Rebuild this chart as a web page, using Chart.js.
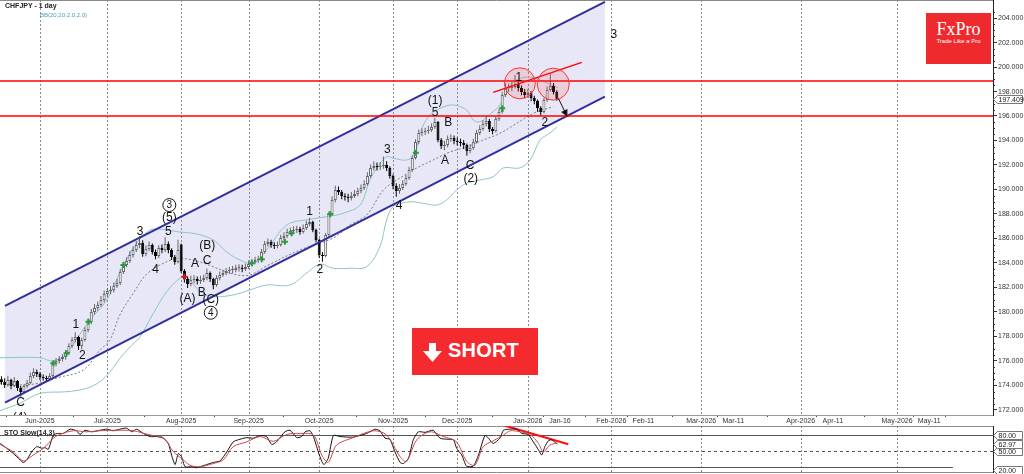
<!DOCTYPE html>
<html>
<head>
<meta charset="utf-8">
<script src="https://cdn.jsdelivr.net/npm/chart.js@4.4.1/dist/chart.umd.min.js"></script>
<style>
  html, body { margin: 0; padding: 0; background: #fff; }
  #wrap { position: relative; width: 1024px; height: 474px; overflow: hidden; font-family: 'Liberation Sans', Arial, sans-serif; }
  #mainChart { position: absolute; left: 0; top: 0; }
  #stoChart { position: absolute; left: 0; top: 426px; }
  .title { position: absolute; left: 5px; top: 2px; font-size: 7px; font-weight: bold; color: #222; white-space: nowrap; }
  .bbname { position: absolute; left: 40px; top: 12px; font-size: 6px; color: #4b9fae; white-space: nowrap; }
  .stoname { position: absolute; left: 4px; top: 429px; font-size: 7px; font-weight: bold; color: #222; white-space: nowrap; }
  .logo { position: absolute; left: 926px; top: 13px; width: 65px; height: 51px; background: #ee2a2f; color: #fff; text-align: center; }
  .logo .brand { position: absolute; left: 0; right: 0; top: 6px; font-family: 'Liberation Serif', 'Times New Roman', serif; font-size: 18px; line-height: 20px; }
  .logo .tag { position: absolute; left: 0; right: 0; top: 25px; font-size: 6px; line-height: 7px; white-space: nowrap; }
  .short { position: absolute; left: 412px; top: 328px; width: 126px; height: 47px; background: #f42a2f; color: #fff; }
  .short svg { position: absolute; left: 11px; top: 15px; }
  .short span { position: absolute; left: 36px; top: 12px; font-size: 20px; line-height: 20px; font-weight: bold; letter-spacing: 0.2px; }
</style>
</head>
<body>
<div id="wrap">
  <canvas id="mainChart" width="1024" height="426"></canvas>
  <canvas id="stoChart" width="1024" height="48"></canvas>
  <div class="title">CHFJPY - 1 day</div>
  <div class="bbname">BB(20,20,2.0,2.0)</div>
  <div class="stoname">STO Slow(14,3)</div>
  <div class="logo"><div class="brand">FxPro</div><div class="tag">Trade Like a Pro</div></div>
  <div class="short">
    <svg width="19" height="19" viewBox="0 0 19 19"><polygon points="6,0 13,0 13,8 19,8 9.5,19 0,8 6,8" fill="#fff"/></svg>
    <span>SHORT</span>
  </div>
</div>
<script>
// daily candles, first one sits at bar -12 (Jun-2025 = bar 0)
const firstBar = -12;
const opens = [
  174.50,174.29,174.04,174.45,173.96,174.37,173.80,173.47,173.96,174.20,174.78,175.10,
  174.94,174.69,174.61,174.53,174.78,175.76,176.00,176.16,176.33,176.65,
  177.22,177.71,177.96,177.22,177.71,178.53,179.18,180.00,180.33,180.57,
  180.98,181.47,181.71,181.80,182.12,182.37,183.27,183.84,184.16,184.65,
  185.06,185.47,185.63,184.73,185.14,185.47,184.90,184.57,185.22,185.06,
  185.55,185.06,184.49,184.08,185.50,183.35,182.69,182.29,182.61,182.69,
  182.53,182.61,182.78,183.18,182.69,182.20,182.78,183.02,183.18,183.35,
  183.43,183.43,183.59,183.59,183.51,183.67,183.92,184.08,184.24,184.33,
  184.90,185.55,185.71,185.47,185.39,185.47,186.04,186.20,186.53,186.61,
  186.69,186.78,186.53,186.86,187.18,187.35,186.69,185.88,184.65,184.57,
  186.29,188.00,189.14,189.96,189.80,189.47,189.39,189.31,189.47,189.63,
  189.88,190.12,190.45,191.10,191.76,191.92,191.84,191.92,192.00,191.76,
  191.10,190.29,189.88,190.12,190.45,190.94,191.59,192.57,193.88,194.61,
  194.69,194.78,194.86,195.10,195.51,194.04,193.55,193.63,194.12,194.20,
  193.96,193.88,193.80,193.63,193.14,193.39,193.88,194.61,194.94,195.35,
  195.59,194.94,194.78,195.76,196.33,197.71,198.29,198.29,198.37,198.61,
  198.29,197.96,197.71,197.88,197.47,197.22,196.65,196.33,197.31,198.12,
  198.45,197.96
];
const highs = [
  174.75,174.60,174.80,174.55,174.70,174.45,173.95,174.10,174.45,175.05,175.40,175.30,
  175.10,174.90,174.80,175.00,175.95,176.25,176.40,176.55,176.90,177.45,
  177.95,178.35,178.05,177.90,178.75,179.45,180.25,180.65,180.85,181.30,
  181.75,181.95,182.10,182.40,182.70,183.50,184.10,184.45,184.95,185.35,
  185.80,186.20,185.85,185.45,185.75,185.60,185.10,185.45,185.50,186.10,
  185.75,185.20,184.65,185.90,185.60,183.50,182.90,182.95,183.00,182.90,
  182.95,183.05,183.55,183.30,182.80,183.00,183.30,183.45,183.60,183.70,
  183.75,183.85,183.90,183.85,183.95,184.20,184.35,184.50,184.60,185.15,
  185.80,186.00,185.90,185.70,185.75,186.30,186.50,186.80,186.90,187.00,
  187.05,186.95,187.15,187.45,187.70,187.45,186.80,186.00,184.90,186.45,
  188.20,189.45,190.30,190.25,189.95,189.70,189.65,189.80,189.95,190.15,
  190.40,190.75,191.40,192.05,192.30,192.20,192.25,192.70,192.30,191.90,
  191.25,190.50,190.45,190.75,191.20,191.85,192.80,194.10,194.90,195.00,
  195.05,195.20,195.40,195.85,195.60,194.20,193.95,194.40,194.50,194.40,
  194.25,194.15,194.05,193.75,193.70,194.15,194.85,195.25,195.65,196.00,
  195.75,195.10,196.00,196.60,198.00,198.70,198.65,198.80,199.35,198.85,
  198.50,198.20,198.20,198.05,197.65,197.35,196.80,197.50,198.40,199.50,
  198.70,198.10
];
const lows = [
  174.05,173.80,173.90,173.70,173.85,173.55,173.10,173.30,173.80,174.10,174.60,174.70,
  174.45,174.40,174.30,174.35,174.70,175.55,175.80,175.95,176.10,176.50,
  177.05,177.50,176.90,176.95,177.60,178.35,179.00,179.80,180.10,180.40,
  180.80,181.25,181.45,181.60,181.95,182.20,183.10,183.65,184.00,184.45,
  184.90,185.20,184.50,184.55,184.95,184.70,184.30,184.40,184.80,184.90,
  184.80,184.25,183.85,183.95,183.20,182.40,181.95,182.10,182.35,182.25,
  182.30,182.45,182.60,182.45,181.85,182.05,182.60,182.85,183.00,183.10,
  183.15,183.25,183.30,183.25,183.35,183.50,183.75,183.90,184.00,184.20,
  184.75,185.35,185.25,185.15,185.20,185.35,185.90,186.05,186.30,186.40,
  186.45,186.30,186.40,186.70,187.00,186.50,185.70,184.40,184.10,184.45,
  186.10,187.85,188.95,189.55,189.20,189.10,188.95,189.10,189.30,189.45,
  189.70,189.95,190.30,190.95,191.55,191.55,191.60,191.70,191.50,190.90,
  190.05,189.40,189.65,189.95,190.30,190.80,191.45,192.45,193.70,194.35,
  194.45,194.55,194.70,194.95,193.85,193.30,193.20,193.45,193.90,193.70,
  193.60,193.50,193.30,192.75,192.95,193.25,193.75,194.45,194.80,195.15,
  194.70,194.50,194.65,195.60,196.20,197.55,197.95,198.05,198.25,198.00,
  197.70,197.45,197.50,197.20,196.95,196.35,196.05,196.20,197.15,198.00,
  197.75,197.25
];
const closes = [
  174.29,174.04,174.45,173.96,174.37,173.80,173.47,173.96,174.20,174.78,175.10,174.94,
  174.69,174.61,174.53,174.78,175.76,176.00,176.16,176.33,176.65,177.22,
  177.71,177.96,177.22,177.71,178.53,179.18,180.00,180.33,180.57,180.98,
  181.47,181.71,181.80,182.12,182.37,183.27,183.84,184.16,184.65,185.06,
  185.47,185.63,184.73,185.14,185.47,184.90,184.57,185.22,185.06,185.55,
  185.06,184.49,184.08,185.06,183.35,182.69,182.29,182.61,182.69,182.53,
  182.61,182.78,183.18,182.69,182.20,182.78,183.02,183.18,183.35,183.43,
  183.43,183.59,183.59,183.51,183.67,183.92,184.08,184.24,184.33,184.90,
  185.55,185.71,185.47,185.39,185.47,186.04,186.20,186.53,186.61,186.69,
  186.78,186.53,186.86,187.18,187.35,186.69,185.88,184.65,184.57,186.29,
  188.00,189.14,189.96,189.80,189.47,189.39,189.31,189.47,189.63,189.88,
  190.12,190.45,191.10,191.76,191.92,191.84,191.92,192.00,191.76,191.10,
  190.29,189.88,190.12,190.45,190.94,191.59,192.57,193.88,194.61,194.69,
  194.78,194.86,195.10,195.51,194.04,193.55,193.63,194.12,194.20,193.96,
  193.88,193.80,193.63,193.14,193.39,193.88,194.61,194.94,195.35,195.59,
  194.94,194.78,195.76,196.33,197.71,198.29,198.29,198.37,198.61,198.29,
  197.96,197.71,197.88,197.47,197.22,196.65,196.33,197.31,198.12,198.45,
  197.96,197.409
];

// Bollinger bands: [bar, price]
const bbUpper = [[-12.45,176.27],[0,176.27],[4.1,176.0],[8.3,176.65],[15.1,179.21],[20.8,180.98],[26.0,183.84],[30.1,185.61],[34.3,186.69],[37.9,186.75],[42.6,186.56],[48.8,186.37],[54.0,185.88],[58.2,184.90],[62.3,184.24],[66.5,183.98],[70.6,185.06],[76.9,187.10],[84.1,187.57],[89.3,187.78],[94.5,188.06],[99.7,188.73],[102.8,190.78],[104.9,191.73],[108.0,192.68],[110.1,192.55],[114.3,192.41],[116.8,192.96],[118.4,194.59],[121.0,195.94],[124.6,196.63],[128.8,196.90],[132.9,196.49],[135.0,195.67],[137.1,195.53],[139.2,195.94],[143.3,196.90],[145.4,198.12],[148.5,198.94],[152.7,199.18],[157.3,198.78],[161.4,198.29]];
const bbMiddle = [[-12.45,174.20],[-6.2,174.04],[0,174.20],[5.2,174.61],[13.5,175.27],[18.7,176.90],[21.8,177.71],[24.9,179.76],[29.1,181.55],[33.3,183.10],[39.5,184.11],[43.6,184.38],[49.9,184.08],[60.2,183.10],[65.4,183.02],[70.6,183.76],[81.0,185.06],[91.4,186.04],[96.6,187.10],[101.8,187.92],[107.0,189.96],[112.2,190.94],[117.4,191.76],[122.5,192.41],[127.7,193.06],[132.9,193.47],[138.1,194.04],[143.3,194.59],[148.5,195.40],[153.7,196.22],[159.9,196.76]];
const bbLower = [[-12.45,171.94],[-6.2,172.55],[0,173.36],[8.3,173.49],[14.6,173.77],[18.7,174.31],[21.8,175.10],[24.9,176.22],[28.1,177.14],[31.2,177.98],[35.3,179.89],[39.5,181.66],[43.6,182.75],[45.7,182.86],[49.9,181.66],[54.0,181.25],[60.2,181.39],[65.4,181.80],[70.6,182.20],[77.9,182.20],[83.1,183.18],[87.2,183.90],[91.4,183.57],[96.6,183.57],[101.8,183.70],[105.9,185.33],[108.0,187.51],[110.1,188.60],[115.3,189.00],[119.4,188.87],[123.6,188.73],[126.7,189.14],[129.8,189.96],[132.9,190.51],[137.1,190.78],[141.2,191.04],[144.3,191.76],[149.5,191.76],[152.7,192.41],[155.8,194.04],[158.9,194.61],[161.1,195.10]];

// channel, levels, trend line
const channelUpper = [[-10.9,180.49],[176.0,205.31]];
const channelLower = [[-10.9,172.60],[176.0,197.58]];
const levels = [198.85, 196.00];
const topTrend = [[141.2,197.93],[168.8,200.38]];
const greenMarks = [[4.2,175.81],[8.3,176.63],[15.1,179.21],[26.0,183.84],[66.0,183.98],[69.1,184.30],[76.3,185.74],[78.4,186.42],[90.4,187.98],[117.1,193.00],[144.0,196.63]];
const redMarks = [[45.0,182.88]];

// wave counts: [text, bar, price]
const waveLabels = [
  ['C',-6.0,172.60],['(4)',-6.2,171.40],['1',11.2,178.94],['2',13.2,176.41],['3',31.2,186.57],
  ['(5)',40.3,187.73],['5',40.0,186.57],['4',36.0,183.43],['A',48.3,183.98],['C',52.1,184.19],
  ['(B)',52.1,185.39],['(A)',46.0,181.12],['B',50.4,181.58],['(C)',53.2,180.98],
  ['1',84.0,188.16],['2',87.2,183.49],['3',108.2,193.28],['4',111.9,188.65],
  ['(1)',123.1,197.25],['5',123.1,196.30],['B',127.2,195.45],['A',126.2,192.35],
  ['C',134.0,191.92],['(2)',134.2,190.86],['1',149.2,199.13],['2',157.3,195.45],['3',178.8,202.61]
];
const circledLabels = [['3',40.3,188.73],['4',53.2,179.94]];
const ringSpots = [[149.5,198.67],[159.9,198.60]];
const arrowPath = [[161.5,197.44],[164.3,195.94]];

// stochastic (14,3): [bar, value]
const stochK = [[-12.4,64],[-10.4,55],[-8.3,45],[-6.2,33],[-5.2,28],[-4.1,33],[-2.6,48],[-1.0,58],[0.5,55],[1.6,56],[2.6,53],[4.2,80],[5.7,83],[7.3,83],[9.4,91],[11.4,88],[12.5,81],[14.0,89],[16.1,86],[18.7,89],[20.8,91],[22.9,88],[24.9,91],[27.0,93],[28.6,86],[30.1,91],[32.2,83],[34.3,77],[36.4,77],[38.4,74],[40.0,64],[41.0,42],[42.1,24],[43.1,45],[44.1,39],[45.2,20],[47.3,20],[48.8,18],[50.4,21],[51.9,24],[54.0,28],[56.1,31],[58.2,48],[60.2,67],[61.8,71],[64.4,75],[66.5,74],[68.6,79],[70.6,77],[72.2,62],[73.7,67],[76.3,86],[77.9,89],[80.0,75],[81.5,77],[82.6,86],[84.1,88],[85.2,77],[86.7,48],[87.8,30],[88.5,24],[89.8,36],[91.4,79],[93.5,77],[97.6,76],[101.8,83],[104.4,91],[105.9,88],[107.5,74],[109.0,72],[110.6,48],[112.2,28],[113.2,26],[114.8,36],[116.3,71],[117.9,86],[120.0,85],[122.5,89],[124.6,74],[126.7,72],[128.8,71],[129.8,55],[131.4,42],[132.9,21],[135.0,21],[136.6,42],[138.6,79],[139.7,74],[141.2,64],[143.3,74],[144.4,89],[146.4,91],[148.5,91],[150.1,83],[152.1,81],[153.7,67],[155.3,52],[156.3,42],[157.3,58],[158.4,69],[159.4,71],[160.5,66],[161.2,63]];
const stochD = [[-12.4,62],[-8.3,48],[-5.2,31],[-2.1,42],[1.1,55],[4.2,74],[6.2,81],[10.4,88],[14.6,86],[18.7,88],[23.9,89],[29.1,88],[34.3,80],[38.4,75],[41.6,48],[44.1,36],[46.7,23],[49.9,20],[54.0,26],[57.1,33],[60.2,58],[64.4,67],[68.6,77],[72.7,68],[76.9,81],[81.0,83],[85.2,80],[87.8,42],[89.8,28],[92.4,61],[97.6,75],[103.9,88],[108.0,80],[112.2,39],[114.2,30],[117.4,71],[121.5,86],[125.7,77],[129.8,67],[132.9,30],[135.5,23],[138.1,58],[141.2,69],[144.4,80],[146.5,88],[149.5,86],[152.7,81],[155.3,64],[156.8,48],[158.9,61],[161.2,65]];
const stochTrend = [[144.9,97.6],[164.6,62.4]];
const stochLevels = [80, 50, 20];
const stochLast = 62.97;

// time axis
const tickPos = [0,21,44,65,87,110,130,152,162,178,188,206,216,237,247,267,277];
const tickLabels = ['Jun-2025','Jul-2025','Aug-2025','Sep-2025','Oct-2025','Nov-2025','Dec-2025','Jan-2026','Jan-16','Feb-2026','Feb-11','Mar-2026','Mar-11','Apr-2026','Apr-11','May-2026','May-11'];
const monthPos = [0,21,44,65,87,110,130,152,178,206,237,267];
const priceTicks = [172,174,176,178,180,182,184,186,188,190,192,194,196,198,200,202,204];

const family = "'Liberation Sans', Arial, sans-serif";
const xMin = -12.45, xMax = 296.9;
const pts = pairs => pairs.map(p => ({ x: p[0], y: p[1] }));

const bodies = closes.map((c, k) => ({ x: firstBar + k, y: [opens[k], c] }));
const wicks = closes.map((c, k) => ({ x: firstBar + k, y: [lows[k], highs[k]] }));
const upDay = closes.map((c, k) => c >= opens[k]);

function dashedMonths(chart) {
  const { ctx, chartArea: a, scales: { x } } = chart;
  ctx.save();
  ctx.strokeStyle = '#8a8a8a';
  ctx.lineWidth = 1;
  ctx.setLineDash([2, 2]);
  monthPos.forEach(m => {
    const px = Math.round(x.getPixelForValue(m)) + 0.5;
    ctx.beginPath(); ctx.moveTo(px, a.top); ctx.lineTo(px, a.bottom); ctx.stroke();
  });
  ctx.restore();
}

function tag(ctx, x0, y, text) {
  ctx.beginPath();
  ctx.moveTo(x0, y); ctx.lineTo(x0 + 4, y - 4); ctx.lineTo(x0 + 29, y - 4);
  ctx.lineTo(x0 + 29, y + 4); ctx.lineTo(x0 + 4, y + 4); ctx.closePath();
  ctx.fillStyle = '#fff'; ctx.fill();
  ctx.strokeStyle = '#777'; ctx.lineWidth = 1; ctx.stroke();
  ctx.fillStyle = '#222'; ctx.font = '7px ' + family;
  ctx.textAlign = 'left'; ctx.textBaseline = 'middle';
  ctx.fillText(text, x0 + 5, y + 0.5);
}

const mainDecor = {
  id: 'mainDecor',
  beforeDatasetsDraw(chart) {
    dashedMonths(chart);
    const { ctx, chartArea: a } = chart;
    ctx.save();
    ctx.strokeStyle = '#8a8a8a'; ctx.lineWidth = 1;
    ctx.beginPath(); ctx.moveTo(0, 0.5); ctx.lineTo(a.right, 0.5); ctx.stroke();
    ctx.restore();
  },
  afterDatasetsDraw(chart) {
    const { ctx, chartArea: a, scales: { x, y } } = chart;
    ctx.save();
    ctx.beginPath(); ctx.rect(a.left, a.top, a.right - a.left, a.bottom - a.top); ctx.clip();

    // rings on the double top
    ringSpots.forEach((r, k) => {
      ctx.beginPath();
      ctx.arc(x.getPixelForValue(r[0]), y.getPixelForValue(r[1]), k ? 16 : 15.5, 0, Math.PI * 2);
      ctx.fillStyle = 'rgba(255,60,60,0.16)'; ctx.fill();
      ctx.strokeStyle = '#ff3030'; ctx.lineWidth = 1; ctx.stroke();
    });

    // arrow down
    const ax0 = x.getPixelForValue(arrowPath[0][0]), ay0 = y.getPixelForValue(arrowPath[0][1]);
    const ax1 = x.getPixelForValue(arrowPath[1][0]), ay1 = y.getPixelForValue(arrowPath[1][1]);
    const ang = Math.atan2(ay1 - ay0, ax1 - ax0);
    ctx.strokeStyle = '#111'; ctx.fillStyle = '#111'; ctx.lineWidth = 1;
    ctx.beginPath(); ctx.moveTo(ax0, ay0); ctx.lineTo(ax1 - 4 * Math.cos(ang), ay1 - 4 * Math.sin(ang)); ctx.stroke();
    ctx.beginPath();
    ctx.moveTo(ax1, ay1);
    ctx.lineTo(ax1 - 7 * Math.cos(ang) + 3.5 * Math.sin(ang), ay1 - 7 * Math.sin(ang) - 3.5 * Math.cos(ang));
    ctx.lineTo(ax1 - 7 * Math.cos(ang) - 3.5 * Math.sin(ang), ay1 - 7 * Math.sin(ang) + 3.5 * Math.cos(ang));
    ctx.closePath(); ctx.fill();

    // wave counts
    ctx.fillStyle = '#111';
    ctx.font = '12px ' + family;
    ctx.textAlign = 'center'; ctx.textBaseline = 'middle';
    waveLabels.forEach(l => ctx.fillText(l[0], x.getPixelForValue(l[1]), y.getPixelForValue(l[2])));
    circledLabels.forEach(l => {
      const cx = x.getPixelForValue(l[1]), cy = y.getPixelForValue(l[2]);
      ctx.beginPath(); ctx.arc(cx, cy, 6.5, 0, Math.PI * 2);
      ctx.strokeStyle = '#111'; ctx.lineWidth = 1; ctx.stroke();
      ctx.font = '10px ' + family;
      ctx.fillText(l[0], cx, cy + 0.5);
    });
    ctx.restore();

    // price labels, minor ticks and last price tag on the right axis
    ctx.save();
    ctx.strokeStyle = '#333'; ctx.lineWidth = 1;
    for (let v = 172.5; v < 205; v += 0.5) {
      if (v % 2 === 0) continue;
      const py = Math.round(y.getPixelForValue(v)) + 0.5;
      ctx.beginPath(); ctx.moveTo(a.right, py); ctx.lineTo(a.right + 2, py); ctx.stroke();
    }
    ctx.fillStyle = '#333'; ctx.font = '7px ' + family;
    ctx.textAlign = 'left'; ctx.textBaseline = 'middle';
    priceTicks.forEach(v => ctx.fillText(v.toFixed(3), a.right + 5, Math.round(y.getPixelForValue(v)) + 0.5));
    const last = closes[closes.length - 1];
    tag(ctx, a.right + 0.5, Math.round(y.getPixelForValue(last)) + 0.5, last.toFixed(3));
    ctx.restore();
  }
};

new Chart(document.getElementById('mainChart'), {
  type: 'line',
  data: {
    datasets: [
      { data: pts(channelUpper), borderColor: '#2f2f9f', borderWidth: 2, pointRadius: 0, fill: false, order: 20 },
      { data: pts(channelLower), borderColor: '#2f2f9f', borderWidth: 2, pointRadius: 0, fill: '-1', backgroundColor: 'rgba(170,170,225,0.28)', order: 20 },
      { data: pts(bbUpper), borderColor: '#8ec3c8', borderWidth: 1, pointRadius: 0, tension: 0.35, fill: false, order: 50 },
      { data: pts(bbMiddle), borderColor: '#7a7a7a', borderWidth: 1, borderDash: [2, 2], pointRadius: 0, tension: 0.35, fill: false, order: 50 },
      { data: pts(bbLower), borderColor: '#8ec3c8', borderWidth: 1, pointRadius: 0, tension: 0.35, fill: false, order: 50 },
      { type: 'bar', data: wicks, backgroundColor: upDay.map(u => u ? '#666' : '#000'), barThickness: 1, grouped: false, inflateAmount: 0, order: 40 },
      { type: 'bar', data: bodies, backgroundColor: upDay.map(u => u ? '#ffffff' : '#000000'), borderColor: upDay.map(u => u ? '#666' : '#000'), borderWidth: 1, borderSkipped: false, barThickness: 3, minBarLength: 1, grouped: false, inflateAmount: 0, order: 30 },
      { data: [{ x: xMin, y: levels[0] }, { x: xMax, y: levels[0] }], borderColor: '#ff0000', borderWidth: 1.5, pointRadius: 0, fill: false, order: 10 },
      { data: [{ x: xMin, y: levels[1] }, { x: xMax, y: levels[1] }], borderColor: '#ff0000', borderWidth: 1.5, pointRadius: 0, fill: false, order: 10 },
      { data: pts(topTrend), borderColor: '#ff0000', borderWidth: 1.5, pointRadius: 0, fill: false, order: 10 },
      { data: pts(greenMarks), showLine: false, pointStyle: 'cross', pointRadius: 3, pointHoverRadius: 3, pointBorderWidth: 2, pointBorderColor: '#2c9a3c', order: 5 },
      { data: pts(redMarks), showLine: false, pointStyle: 'cross', pointRadius: 3, pointHoverRadius: 3, pointBorderWidth: 2, pointBorderColor: '#cc2020', order: 5 }
    ]
  },
  options: {
    responsive: false,
    animation: false,
    devicePixelRatio: 1,
    events: [],
    layout: { padding: 0, autoPadding: false },
    plugins: { legend: { display: false }, tooltip: { enabled: false }, filler: { drawTime: 'beforeDatasetsDraw' } },
    scales: {
      x: {
        type: 'linear', min: xMin, max: xMax, offset: false,
        afterBuildTicks: s => { s.ticks = tickPos.map(v => ({ value: v })); },
        afterFit: s => { s.height = 11; s.paddingLeft = 0; s.paddingRight = 0; },
        grid: { drawOnChartArea: false, tickLength: 2, color: '#444' },
        border: { color: '#9a9a9a' },
        ticks: { autoSkip: false, maxRotation: 0, padding: 0, color: '#333', font: { size: 7, family: family }, callback: v => tickLabels[tickPos.indexOf(v)] }
      },
      y: {
        position: 'right', min: 171.59, max: 205.47,
        afterBuildTicks: s => { s.ticks = priceTicks.map(v => ({ value: v })); },
        afterFit: s => { s.width = 31; s.paddingTop = 0; s.paddingBottom = 0; },
        grid: { drawOnChartArea: false, tickLength: 4, color: '#333' },
        border: { color: '#222' },
        ticks: { display: false }
      }
    }
  },
  plugins: [mainDecor]
});

const stoDecor = {
  id: 'stoDecor',
  beforeDatasetsDraw(chart) {
    dashedMonths(chart);
    const { ctx, chartArea: a, scales: { x, y } } = chart;
    ctx.save();
    ctx.strokeStyle = '#555'; ctx.lineWidth = 1;
    stochLevels.forEach(lv => {
      const py = Math.round(y.getPixelForValue(lv)) + 0.5;
      ctx.setLineDash(lv === 50 ? [3, 3] : []);
      ctx.beginPath(); ctx.moveTo(a.left, py);
      ctx.lineTo(lv === 20 ? x.getPixelForValue(284.4) : a.right, py); ctx.stroke();
    });
    ctx.setLineDash([]);
    ctx.strokeStyle = '#8a8a8a';
    ctx.beginPath(); ctx.moveTo(0, a.top + 0.5); ctx.lineTo(a.right, a.top + 0.5); ctx.stroke();
    ctx.beginPath(); ctx.moveTo(0, a.bottom + 0.5); ctx.lineTo(a.right, a.bottom + 0.5); ctx.stroke();
    ctx.restore();
  },
  afterDatasetsDraw(chart) {
    const { ctx, chartArea: a, scales: { y } } = chart;
    ctx.save();
    tag(ctx, a.right + 0.5, Math.round(y.getPixelForValue(80)) + 0.5, '80.00');
    tag(ctx, a.right + 0.5, Math.round(y.getPixelForValue(50)) + 0.5, '50.00');
    tag(ctx, a.right + 0.5, Math.round(y.getPixelForValue(stochLast)) + 0.5, stochLast.toFixed(2));
    tag(ctx, a.right + 0.5, Math.round(y.getPixelForValue(20)) + 3.5, '20.00');
    ctx.restore();
  }
};

new Chart(document.getElementById('stoChart'), {
  type: 'line',
  data: {
    datasets: [
      { data: pts(stochD), borderColor: '#d04848', borderWidth: 1, pointRadius: 0, tension: 0.3, fill: false },
      { data: pts(stochK), borderColor: '#111', borderWidth: 1, pointRadius: 0, tension: 0.2, fill: false },
      { data: pts(stochTrend), borderColor: '#ff1010', borderWidth: 2, pointRadius: 0, fill: false }
    ]
  },
  options: {
    responsive: false,
    animation: false,
    devicePixelRatio: 1,
    events: [],
    layout: { padding: { bottom: 2 }, autoPadding: false },
    plugins: { legend: { display: false }, tooltip: { enabled: false } },
    scales: {
      x: { type: 'linear', min: xMin, max: xMax, display: false },
      y: {
        position: 'right', min: 10, max: 97,
        afterFit: s => { s.width = 31; s.paddingTop = 0; s.paddingBottom = 0; },
        grid: { drawOnChartArea: false, drawTicks: false },
        border: { color: '#222' },
        ticks: { display: false }
      }
    }
  },
  plugins: [stoDecor]
});
</script>
</body>
</html>
